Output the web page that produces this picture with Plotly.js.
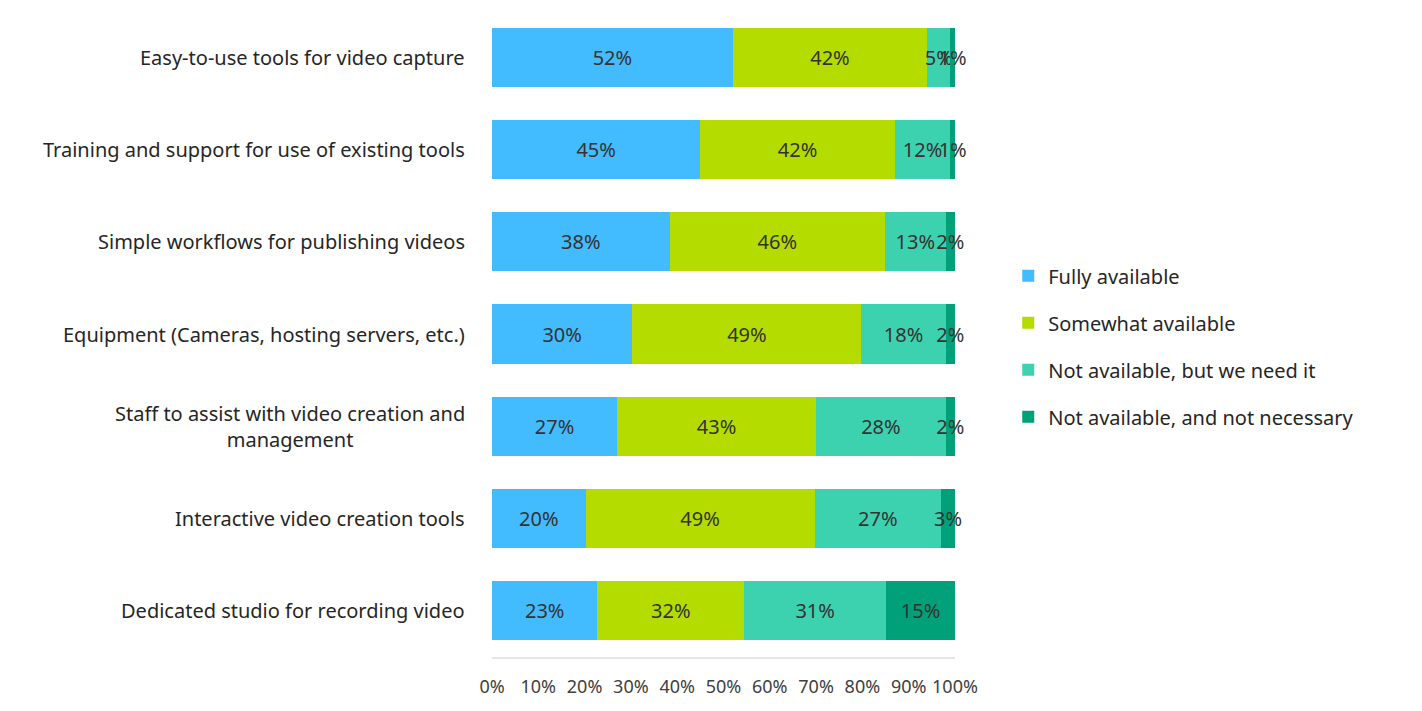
<!DOCTYPE html>
<html>
<head>
<meta charset="utf-8">
<script src="https://cdn.plot.ly/plotly-3.0.1.min.js"></script>
<style>
  html, body { margin: 0; padding: 0; background: #ffffff; }
  #chart { width: 1422px; height: 711px; }
</style>
</head>
<body>
<div id="chart"></div>
<script>
// Resources for video creation: availability by resource type (share of respondents, %)
const categories = [
  "Easy-to-use tools for video capture",
  "Training and support for use of existing tools",
  "Simple workflows for publishing videos",
  "Equipment (Cameras, hosting servers, etc.)",
  "Staff to assist with video creation and<br>management",
  "Interactive video creation tools",
  "Dedicated studio for recording video"
];

const seriesNames = [
  "Fully available",
  "Somewhat available",
  "Not available, but we need it",
  "Not available, and not necessary"
];

const fullyAvailable     = [52, 45, 38, 30, 27, 20, 23];
const somewhatAvailable  = [42, 42, 46, 49, 43, 49, 32];
const notAvailableNeeded = [5, 12, 13, 18, 28, 27, 31];
const notAvailableNotNec = [1, 1, 2, 2, 2, 3, 15];

const seriesValues = [fullyAvailable, somewhatAvailable, notAvailableNeeded, notAvailableNotNec];
const seriesColors = ["#43bbff", "#b5dc00", "#3dd2af", "#00a078"];

const xTickValues = [0, 10, 20, 30, 40, 50, 60, 70, 80, 90, 100];
const xTickLabels = ["0%", "10%", "20%", "30%", "40%", "50%", "60%", "70%", "80%", "90%", "100%"];

const FONT = "'Noto Sans', 'Open Sans', sans-serif";

const traces = seriesValues.map((vals, i) => ({
  type: "bar",
  orientation: "h",
  name: seriesNames[i],
  legendgroup: "g" + i,
  y: categories,
  x: vals,
  text: vals.map(v => v + "%"),
  textposition: "inside",
  insidetextanchor: "middle",
  textangle: 0,
  constraintext: "none",
  cliponaxis: false,
  insidetextfont: { family: FONT, size: 20, color: "#333333" },
  marker: { color: seriesColors[i], line: { width: 0 } },
  hoverinfo: "name+x"
}));

// Category labels drawn as centred text blocks right-aligned against the plot
const labelAnnotations = categories.map(c => ({
  xref: "paper", yref: "y",
  x: -0.053, y: c,
  xanchor: "right", yanchor: "middle",
  align: "center",
  text: c,
  showarrow: false,
  font: { family: FONT, size: 20, color: "#262626" }
}));

const layout = {
  width: 1422,
  height: 711,
  margin: { l: 492, r: 467, t: 11, b: 54, pad: 0 },
  paper_bgcolor: "#ffffff",
  plot_bgcolor: "#ffffff",
  barmode: "stack",
  barnorm: "percent",
  bargap: 0.36,
  uniformtext: { mode: "show", minsize: 20 },
  font: { family: FONT, size: 18, color: "#333333" },
  xaxis: {
    range: [0, 100],
    tickvals: xTickValues,
    ticktext: xTickLabels,
    showgrid: false,
    zeroline: false,
    showline: true,
    linecolor: "#e6e6e6",
    linewidth: 2,
    ticks: "",
    ticklabelstandoff: 12,
    tickfont: { family: FONT, size: 18, color: "#404040" },
    fixedrange: true
  },
  yaxis: {
    type: "category",
    categoryorder: "array",
    categoryarray: categories,
    autorange: "reversed",
    showticklabels: false,
    showgrid: false,
    zeroline: false,
    showline: false,
    ticks: "",
    fixedrange: true
  },
  showlegend: true,
  legend: {
    x: 1.115,
    xanchor: "left",
    y: 0.481,
    yanchor: "middle",
    traceorder: "grouped",
    tracegroupgap: 18,
    font: { family: FONT, size: 20, color: "#262626" },
    bgcolor: "rgba(0,0,0,0)",
    itemclick: false,
    itemdoubleclick: false
  },
  annotations: labelAnnotations
};

Plotly.newPlot("chart", traces, layout, { displayModeBar: false, staticPlot: true });
</script>
</body>
</html>
